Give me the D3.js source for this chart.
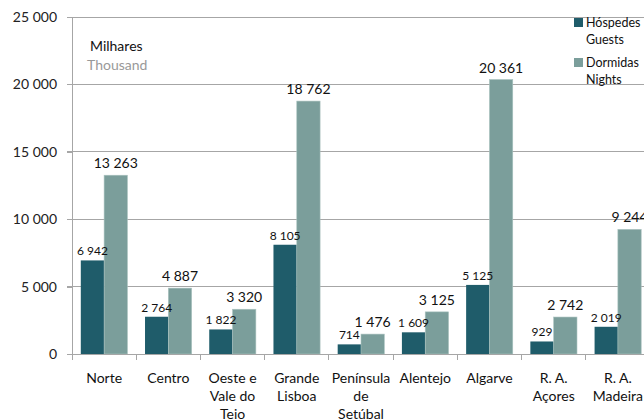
<!DOCTYPE html>
<html>
<head>
<meta charset="utf-8">
<script src="https://cdn.jsdelivr.net/npm/d3@7"></script>
<style>
  html, body { margin: 0; padding: 0; background: #fff; }
  svg { display: block; font-family: Lato, "Open Sans", sans-serif; }
</style>
</head>
<body>
<svg id="chart" width="644" height="419"></svg>
<script>
// Guests and nights by NUTS II region (thousands)
const categories = ["Norte", "Centro", "Oeste e\nVale do\nTejo", "Grande\nLisboa", "Península\nde\nSetúbal", "Alentejo", "Algarve", "R. A.\nAçores", "R. A.\nMadeira"];
const hospedes = [6942, 2764, 1822, 8105, 714, 1609, 5125, 929, 2019];
const dormidas = [13263, 4887, 3320, 18762, 1476, 3125, 20361, 2742, 9244];
const seriesNames = ["Hóspedes", "Dormidas"];
const seriesNamesEn = ["Guests", "Nights"];
const yTicks = [0, 5000, 10000, 15000, 20000, 25000];

const colors = ["#1f5c6a", "#7b9e9b"];
const fmt = v => d3.format(",")(v).replace(/,/g, " ");

const svg = d3.select("#chart");
const plotLeft = 72, plotRight = 650, plotTop = 17, plotBottom = 354;

const x = d3.scaleBand().domain(d3.range(categories.length)).range([plotLeft, plotRight])
  .paddingInner(0.274).paddingOuter(0.137);
const xs = d3.scaleBand().domain([0, 1]).range([0, x.bandwidth()]).padding(0);
const y = d3.scaleLinear().domain([0, 25000]).range([plotBottom, plotTop]);

// gridlines
svg.append("g").selectAll("line").data(yTicks.filter(d => d > 0)).join("line")
  .attr("x1", plotLeft - 5).attr("x2", 644)
  .attr("y1", d => y(d)).attr("y2", d => y(d))
  .attr("stroke", "#a6a6a6").attr("stroke-width", 1).attr("shape-rendering", "crispEdges");

// y axis
const yAxis = svg.append("g").attr("transform", `translate(${plotLeft},0)`)
  .call(d3.axisLeft(y).tickValues(yTicks).tickFormat(fmt).tickSize(5).tickPadding(10));
yAxis.select(".domain").attr("stroke", "#a6a6a6").attr("shape-rendering", "crispEdges");
yAxis.selectAll(".tick line").attr("stroke", "#a6a6a6").attr("shape-rendering", "crispEdges");
yAxis.selectAll(".tick text").attr("font-size", 14).attr("fill", "#222")
  .attr("font-family", "Lato, sans-serif");

// bars
const data = [hospedes, dormidas];
const groups = svg.append("g").selectAll("g").data(categories).join("g")
  .attr("transform", (d, i) => `translate(${x(i)},0)`);

data.forEach((vals, s) => {
  groups.append("rect")
    .attr("x", xs(s)).attr("width", xs.bandwidth())
    .attr("y", (d, i) => y(vals[i])).attr("height", (d, i) => y(0) - y(vals[i]))
    .attr("fill", colors[s])
    .attr("stroke", s === 1 ? "#a9c2bf" : "none").attr("stroke-width", s === 1 ? 0.6 : 0);
});

// value labels
groups.append("text")
  .attr("x", xs(0) + xs.bandwidth() / 2)
  .attr("y", (d, i) => y(hospedes[i]) - 5)
  .attr("text-anchor", "middle").attr("font-size", 12).attr("fill", "#111")
  .text((d, i) => fmt(hospedes[i]));
groups.append("text")
  .attr("x", xs(1) + xs.bandwidth() / 2)
  .attr("y", (d, i) => y(dormidas[i]) - 7)
  .attr("text-anchor", "middle").attr("font-size", 14).attr("fill", "#111")
  .text((d, i) => fmt(dormidas[i]));

// x axis line and boundary ticks
svg.append("line").attr("x1", plotLeft - 5).attr("x2", 644).attr("y1", plotBottom).attr("y2", plotBottom)
  .attr("stroke", "#a6a6a6").attr("shape-rendering", "crispEdges");
const step = x.step();
svg.append("g").selectAll("line").data(d3.range(categories.length + 1)).join("line")
  .attr("x1", i => plotLeft + i * step).attr("x2", i => plotLeft + i * step)
  .attr("y1", plotBottom).attr("y2", plotBottom + 6)
  .attr("stroke", "#a6a6a6").attr("shape-rendering", "crispEdges");

// category labels
const catText = groups.append("text")
  .attr("text-anchor", "middle").attr("font-size", 14).attr("fill", "#111");
catText.each(function(d) {
  const t = d3.select(this);
  d.split("\n").forEach((line, k) => {
    t.append("tspan").attr("x", x.bandwidth() / 2).attr("y", 383 + k * 18).text(line);
  });
});

// unit note
svg.append("text").attr("x", 90).attr("y", 51).attr("font-size", 14).attr("fill", "#111").text("Milhares");
svg.append("text").attr("x", 87).attr("y", 70).attr("font-size", 14).attr("fill", "#999").text("Thousand");

// legend
const leg = svg.append("g");
seriesNames.forEach((name, s) => {
  const gy = 18 + s * 40;
  leg.append("rect").attr("x", 574).attr("y", gy).attr("width", 9).attr("height", 9).attr("fill", colors[s]);
  leg.append("text").attr("x", 586).attr("y", gy + 9).attr("font-size", 12.5).attr("fill", "#111").text(name);
  leg.append("text").attr("x", 586).attr("y", gy + 26).attr("font-size", 12.5).attr("fill", "#111").text(seriesNamesEn[s]);
});
</script>
</body>
</html>
